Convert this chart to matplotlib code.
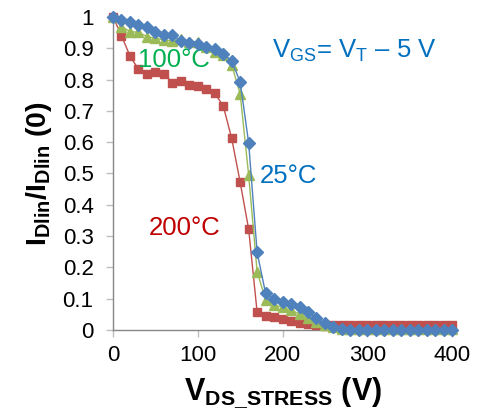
import matplotlib
matplotlib.use("Agg")
import matplotlib.pyplot as plt

plt.rcParams["font.family"] = ["Liberation Sans", "DejaVu Sans"]
plt.rcParams["mathtext.fontset"] = "custom"
plt.rcParams["mathtext.rm"] = "Liberation Sans"
plt.rcParams["mathtext.it"] = "Liberation Sans"
plt.rcParams["mathtext.bf"] = "Liberation Sans:bold"

# Drain stress voltage (V), 10 V steps
v_stress = list(range(0, 410, 10))

# Normalised linear drain current I_Dlin / I_Dlin(0)
i_25c = [1.000, 0.990, 0.983, 0.974, 0.969, 0.953, 0.942, 0.942, 0.924, 0.918,
         0.914, 0.905, 0.897, 0.882, 0.860, 0.792, 0.598, 0.248, 0.117, 0.100,
         0.090, 0.082, 0.072, 0.058, 0.037, 0.021, 0.009, 0.002, 0.001, 0.001,
         0.001, 0.001, 0.001, 0.001, 0.001, 0.001, 0.001, 0.001, 0.001, 0.001,
         0.001]
i_100c = [1.000, 0.969, 0.953, 0.951, 0.937, 0.932, 0.926, 0.924, 0.929, 0.921,
          0.921, 0.905, 0.889, 0.879, 0.847, 0.754, 0.495, 0.186, 0.096, 0.080,
          0.072, 0.064, 0.051, 0.037, 0.027, 0.016, 0.009, 0.004, 0.003, 0.003,
          0.003, 0.003, 0.003, 0.003, 0.003, 0.003, 0.003, 0.003, 0.003, 0.003,
          0.003]
i_200c = [1.000, 0.940, 0.875, 0.833, 0.818, 0.825, 0.818, 0.790, 0.794, 0.783,
          0.780, 0.769, 0.756, 0.716, 0.612, 0.472, 0.322, 0.057, 0.046, 0.040,
          0.034, 0.029, 0.023, 0.019, 0.016, 0.014, 0.015, 0.015, 0.015, 0.015,
          0.015, 0.016, 0.016, 0.016, 0.016, 0.017, 0.017, 0.017, 0.017, 0.017,
          0.017]

fig = plt.figure(figsize=(4.83, 4.12), dpi=100)
ax = fig.add_axes([0.234, 0.199, 0.702, 0.760])

ax.plot(v_stress, i_200c, color="#C0504D", lw=1.0, marker="s", ms=6.2,
        mec="#C0504D", mfc="#C0504D", clip_on=False, zorder=3)
ax.plot(v_stress, i_100c, color="#9BBB59", lw=1.0, marker="^", ms=7,
        mec="#9BBB59", mfc="#9BBB59", clip_on=False, zorder=4)
ax.plot(v_stress, i_25c, color="#4F81BD", lw=1.0, marker="D", ms=6,
        mec="#4F81BD", mfc="#4F81BD", clip_on=False, zorder=5)

ax.set_xlim(0, 400)
ax.set_ylim(0, 1)
ax.set_xticks([0, 100, 200, 300, 400])
ax.set_yticks([i / 10 for i in range(11)])
ax.set_yticklabels(["0"] + [f"{i/10:.1f}" for i in range(1, 10)] + ["1"])

for side in ("top", "right"):
    ax.spines[side].set_visible(False)
for side in ("left", "bottom"):
    ax.spines[side].set_color("#868686")
    ax.spines[side].set_linewidth(1.0)
ax.tick_params(axis="both", direction="out", length=5, width=1.0,
               color="#BFBFBF", labelsize=16, labelcolor="black")
ax.tick_params(axis="y", pad=9)
ax.tick_params(axis="x", pad=6)

ax.set_xlabel(r"$\mathbf{V_{DS\_STRESS}}$ (V)", fontsize=22,
              fontweight="bold", labelpad=7)
ax.set_ylabel(r"$\mathbf{I_{Dlin}/I_{Dlin}}$ (0)", fontsize=20.5,
              fontweight="bold", labelpad=6)

ax.text(29.5, 0.840, "100°C", color="#00B050", fontsize=18.5, va="baseline")
ax.text(187, 0.868, r"$\mathrm{V_{GS}}$= $\mathrm{V_{T}}$ – 5 V",
        color="#0070C0", fontsize=18.5, va="baseline")
ax.text(172.6, 0.469, "25°C", color="#0070C0", fontsize=18.5, va="baseline")
ax.text(41.7, 0.3035, "200°C", color="#C00000", fontsize=18.5, va="baseline")

fig.savefig("out.png", dpi=100)
